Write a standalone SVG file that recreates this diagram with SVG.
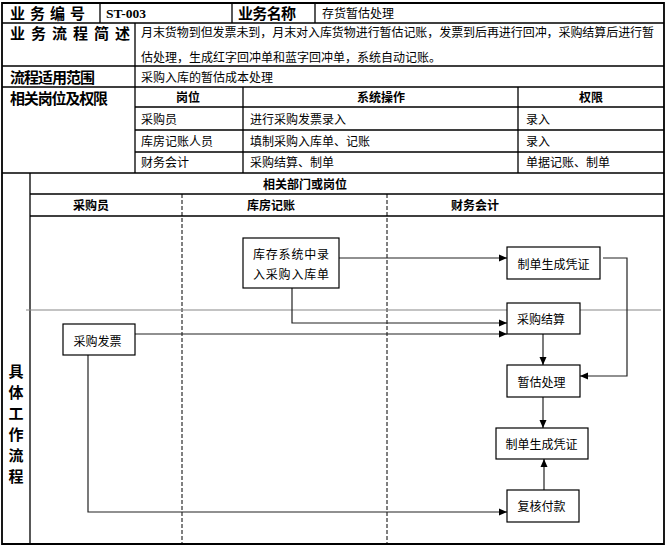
<svg xmlns="http://www.w3.org/2000/svg" width="666" height="547" viewBox="0 0 666 547">
<style>
.ln{stroke:#000;stroke-width:1.3;fill:none}
.ol{stroke:#000;stroke-width:1.8;fill:none}
.dash{stroke:#000;stroke-width:1;stroke-dasharray:4,2;fill:none}
.hd{font-family:"Noto Sans CJK SC","Liberation Sans",sans-serif;font-size:15px;font-weight:bold;fill:#000}
.tx{font-family:"Noto Sans CJK SC","Liberation Sans",sans-serif;font-size:12px;fill:#000}
.bd{font-family:"Noto Sans CJK SC","Liberation Sans",sans-serif;font-size:12px;font-weight:bold;fill:#000}
.mid{text-anchor:middle}
.box{fill:#fff;stroke:#000;stroke-width:1.2}
.conn{fill:none;stroke:#222;stroke-width:1.2}
</style>
<defs>
<marker id="arr" markerUnits="userSpaceOnUse" markerWidth="10" markerHeight="10" viewBox="0 0 10 10" refX="9" refY="5" orient="auto">
<path d="M1,1.5 L9,5 L1,8.5 Z" fill="#000"/>
</marker>
</defs>
<rect width="666" height="547" fill="#fff"/>
<g id="table">
<path class="ol" d="M2,3 H664 V544 H2 Z"/>
<path class="ln" d="M2,23 H664 M2,66 H664 M2,87 H664 M135,107 H664 M135,130 H664 M135,152 H664 M2,173 H664 M30,194 H664 M30,216 H664"/>
<path class="ln" d="M100,3 V23 M232,3 V23 M315,3 V23 M135,23 V173 M243,87 V173 M518,87 V173 M30,173 V544"/>
<path class="dash" d="M182,194 V544 M387,194 V544"/>
<line x1="26" y1="310" x2="661" y2="310" stroke="#888" stroke-width="1.2"/>
<text class="hd" x="10" y="18.5" textLength="75" lengthAdjust="spacing">业务编号</text>
<text x="106" y="18" font-family="Liberation Serif, serif" font-size="13.5" font-weight="bold">ST-003</text>
<text class="hd" x="238" y="18.5" textLength="58" lengthAdjust="spacing">业务名称</text>
<text class="tx" x="322" y="17.5">存货暂估处理</text>
<text class="hd" x="10" y="38.5" textLength="120" lengthAdjust="spacing">业务流程简述</text>
<text class="tx" x="141" y="37" textLength="513" lengthAdjust="spacing">月末货物到但发票未到，月末对入库货物进行暂估记账，发票到后再进行回冲，采购结算后进行暂</text>
<text class="tx" x="141" y="62">估处理，生成红字回冲单和蓝字回冲单，系统自动记账。</text>
<text class="hd" x="10" y="82.5" textLength="85" lengthAdjust="spacing">流程适用范围</text>
<text class="tx" x="141" y="81.5">采购入库的暂估成本处理</text>
<text class="hd" x="10" y="103.5" textLength="98" lengthAdjust="spacing">相关岗位及权限</text>
<text class="bd mid" x="188" y="102">岗位</text>
<text class="bd mid" x="381" y="102">系统操作</text>
<text class="bd mid" x="591" y="102">权限</text>
<text class="tx" x="141" y="123.5">采购员</text>
<text class="tx" x="250" y="123.5">进行采购发票录入</text>
<text class="tx" x="526" y="123.5">录入</text>
<text class="tx" x="141" y="145.5">库房记账人员</text>
<text class="tx" x="250" y="145.5">填制采购入库单、记账</text>
<text class="tx" x="526" y="145.5">录入</text>
<text class="tx" x="141" y="166.5">财务会计</text>
<text class="tx" x="250" y="166.5">采购结算、制单</text>
<text class="tx" x="526" y="166.5">单据记账、制单</text>
<text class="bd mid" x="305" y="188.5">相关部门或岗位</text>
<text class="bd mid" x="91" y="209.5">采购员</text>
<text class="bd mid" x="271" y="209.5">库房记账</text>
<text class="bd mid" x="475" y="209.5">财务会计</text>
<g class="hd mid">
<text x="16" y="376.5">具</text>
<text x="16" y="397.5">体</text>
<text x="16" y="418.5">工</text>
<text x="16" y="439.5">作</text>
<text x="16" y="460.5">流</text>
<text x="16" y="481.5">程</text>
</g>
</g>
<g id="connectors">
<path class="conn" d="M339,258 H507" marker-end="url(#arr)"/>
<path class="conn" d="M292,288 V323 H507" marker-end="url(#arr)"/>
<path class="conn" d="M135,334 H507" marker-end="url(#arr)"/>
<path class="conn" d="M543,334 V365" marker-end="url(#arr)"/>
<path class="conn" d="M603,258 H627 V376 H580" marker-end="url(#arr)"/>
<path class="conn" d="M543,397 V428" marker-end="url(#arr)"/>
<path class="conn" d="M544,490 V459" marker-end="url(#arr)"/>
<path class="conn" d="M88,355 V512 H507" marker-end="url(#arr)"/>
</g>
<g id="n_kucun">
<rect class="box" x="243" y="238" width="96" height="50"/>
<text class="tx" x="253" y="258.5" textLength="76" lengthAdjust="spacing">库存系统中录</text>
<text class="tx" x="253" y="278.5" textLength="76" lengthAdjust="spacing">入采购入库单</text>
</g>
<g id="n_zhidan1">
<rect class="box" x="507" y="247" width="93" height="32"/>
<text class="tx mid" x="553.5" y="268.5">制单生成凭证</text>
</g>
<g id="n_jiesuan">
<rect class="box" x="507" y="303" width="73" height="31"/>
<text class="tx mid" x="541" y="323.5">采购结算</text>
</g>
<g id="n_fapiao">
<rect class="box" x="63" y="324" width="72" height="31"/>
<text class="tx mid" x="97.5" y="345.5">采购发票</text>
</g>
<g id="n_zangu">
<rect class="box" x="507" y="365" width="73" height="32"/>
<text class="tx mid" x="541.5" y="386.5">暂估处理</text>
</g>
<g id="n_zhidan2">
<rect class="box" x="496" y="428" width="92" height="31"/>
<text class="tx mid" x="541.5" y="448.5">制单生成凭证</text>
</g>
<g id="n_fuhe">
<rect class="box" x="507" y="490" width="72" height="32"/>
<text class="tx mid" x="541.5" y="510.5">复核付款</text>
</g>
</svg>
